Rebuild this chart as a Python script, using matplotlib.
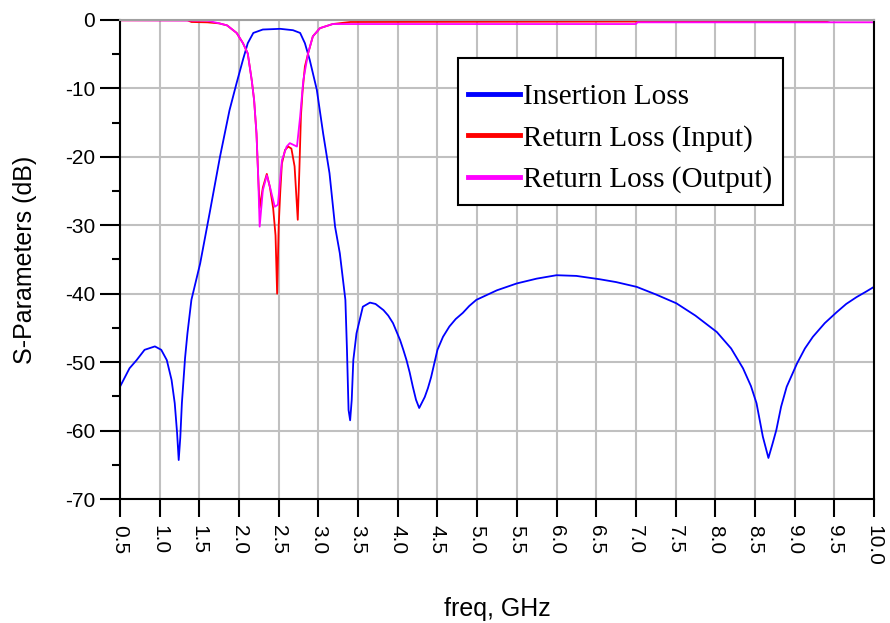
import matplotlib
matplotlib.use("Agg")
import matplotlib.pyplot as plt
from matplotlib.patches import Rectangle
from matplotlib.ticker import MultipleLocator

plt.rcParams["axes.unicode_minus"] = False

# insertion loss (S21)
il_freq = [0.50, 0.62, 0.71, 0.81, 0.94, 1.02, 1.09, 1.15, 1.19, 1.22, 1.24, 1.26, 1.28,
           1.32, 1.35, 1.40, 1.51, 1.63, 1.76, 1.88, 1.97, 2.05, 2.11, 2.18, 2.30, 2.52,
           2.68, 2.77, 2.83, 2.89, 2.98, 3.06, 3.14, 3.21, 3.27, 3.34, 3.36, 3.38, 3.40,
           3.42, 3.44, 3.48, 3.56, 3.65, 3.72, 3.82, 3.88, 3.94, 4.03, 4.07, 4.11, 4.15,
           4.19, 4.23, 4.27, 4.34, 4.38, 4.42, 4.46, 4.50, 4.57, 4.65, 4.73, 4.82, 4.90,
           4.99, 5.25, 5.50, 5.75, 6.00, 6.25, 6.55, 6.75, 7.01, 7.25, 7.51, 7.75, 8.02,
           8.20, 8.35, 8.45, 8.52, 8.60, 8.67, 8.72, 8.77, 8.83, 8.90, 9.03, 9.13, 9.23,
           9.38, 9.53, 9.65, 9.78, 9.90, 10.00]
il_db = [-53.6, -50.9, -49.7, -48.2, -47.7, -48.2, -49.7, -52.6, -56.0, -60.4, -64.3, -61.0, -56.0,
         -49.4, -45.8, -40.9, -35.6, -28.2, -20.0, -13.2, -9.2, -5.8, -3.4, -1.9, -1.4, -1.3,
         -1.5, -1.9, -3.4, -5.8, -10.2, -16.6, -22.4, -30.2, -34.1, -40.9, -48.2, -57.0, -58.5,
         -55.5, -49.7, -45.8, -41.9, -41.3, -41.5, -42.4, -43.2, -44.3, -46.8, -48.2, -49.7, -51.5,
         -53.6, -55.5, -56.7, -55.1, -53.8, -52.2, -50.2, -48.2, -46.3, -44.8, -43.7, -42.8, -41.8,
         -40.9, -39.5, -38.5, -37.8, -37.3, -37.4, -37.9, -38.3, -39.0, -40.1, -41.4, -43.2, -45.6,
         -48.0, -50.9, -53.5, -56.0, -60.9, -64.0, -62.0, -59.9, -56.5, -53.6, -50.2, -48.0, -46.3,
         -44.3, -42.7, -41.5, -40.5, -39.7, -39.0]

# return loss, input (S11)
rl_in_freq = [0.50, 1.35, 1.40, 1.60, 1.75, 1.85, 1.97, 2.05, 2.11, 2.16, 2.19, 2.22, 2.24,
              2.26, 2.30, 2.35, 2.39, 2.43, 2.46, 2.48, 2.50, 2.52, 2.54, 2.58, 2.62, 2.66,
              2.70, 2.74, 2.76, 2.78, 2.80, 2.83, 2.87, 2.93, 3.02, 3.18, 3.40, 9.40, 9.45, 10.0]
rl_in_db = [-0.05, -0.05, -0.3, -0.35, -0.5, -0.8, -1.9, -3.4, -4.9, -8.8, -11.7, -16.6, -22.4,
            -27.5, -24.5, -22.5, -24.5, -27.5, -31.5, -40.0, -30.0, -25.0, -21.0, -19.0, -18.5, -18.8,
            -21.4, -29.2, -22.0, -14.0, -10.5, -6.8, -4.9, -2.4, -1.2, -0.6, -0.3, -0.2, -0.05, -0.05]

# return loss, output (S22)
rl_out_freq = [0.50, 1.60, 1.75, 1.85, 1.97, 2.05, 2.11, 2.16, 2.19, 2.22, 2.24, 2.26, 2.30,
               2.35, 2.39, 2.45, 2.49, 2.54, 2.60, 2.64, 2.73, 2.77, 2.81, 2.87, 2.93, 3.02,
               3.18, 3.60, 7.00, 7.02, 10.0]
rl_out_db = [-0.05, -0.1, -0.5, -0.8, -1.9, -3.4, -4.9, -8.8, -11.7, -16.6, -22.4, -30.2, -24.9,
             -22.7, -24.4, -27.3, -27.0, -20.5, -18.5, -18.0, -18.5, -14.1, -8.8, -4.9, -2.4, -1.2,
             -0.6, -0.6, -0.6, -0.35, -0.35]

xticks = [0.5 + 0.5 * i for i in range(20)]

W, H = 890, 623
fig = plt.figure(figsize=(8.9, 6.23), dpi=100)
ax = fig.add_axes([0.1348, 0.199, 0.8472, 0.769])

ax.plot(il_freq, il_db, color="#0000ff", lw=1.3, label="Insertion Loss")
ax.plot(rl_in_freq, rl_in_db, color="#ff0000", lw=1.3, label="Return Loss (Input)")
ax.plot(rl_out_freq, rl_out_db, color="#ff00ff", lw=1.3, label="Return Loss (Output)")

ax.set_xlim(0.5, 10.0)
ax.set_ylim(-70, 0)
ax.set_xticks(xticks)
ax.set_xticklabels(["%.1f" % t for t in xticks], rotation=-90,
                   fontfamily="Liberation Sans", fontsize=15)
ax.yaxis.set_major_locator(MultipleLocator(10))
ax.yaxis.set_minor_locator(MultipleLocator(5))
for lab in ax.get_yticklabels():
    lab.set_fontfamily("Liberation Sans")
    lab.set_fontsize(15)

ax.tick_params(axis="x", which="major", direction="out", length=13, width=1.5, pad=6)
ax.tick_params(axis="y", which="major", direction="out", length=14.4, width=1.5, pad=3.5)
ax.tick_params(axis="y", which="minor", direction="out", length=5.8, width=1.5)

ax.grid(True, which="major", color="#c0c0c0", lw=1.5)
ax.set_axisbelow(True)
for side in ["left", "bottom", "right"]:
    ax.spines[side].set_color("black")
    ax.spines[side].set_linewidth(1.5)
ax.spines["top"].set_color("#a0a0a0")
ax.spines["top"].set_linewidth(1.5)

ax.set_xlabel("freq, GHz", fontfamily="Liberation Sans", fontsize=18, labelpad=22)
ax.set_ylabel("S-Parameters (dB)", fontfamily="Liberation Sans", fontsize=18, labelpad=20)

# legend box drawn separately so the padding can differ per side
box = Rectangle((458 / W, 1 - 205 / H), 325 / W, 147 / H, transform=fig.transFigure,
                facecolor="white", edgecolor="black", lw=1.5, zorder=4, clip_on=False)
ax.add_patch(box)
leg = ax.legend(loc="upper left", bbox_to_anchor=(468 / W, 1 - 84 / H),
                bbox_transform=fig.transFigure, borderaxespad=0, frameon=False,
                prop={"family": "Liberation Serif", "size": 21},
                handlelength=1.78, handletextpad=0.1, labelspacing=0.5, borderpad=0)
leg.set_zorder(5)
for line in leg.get_lines():
    line.set_linewidth(3.5)

fig.savefig("out.png", dpi=100)
